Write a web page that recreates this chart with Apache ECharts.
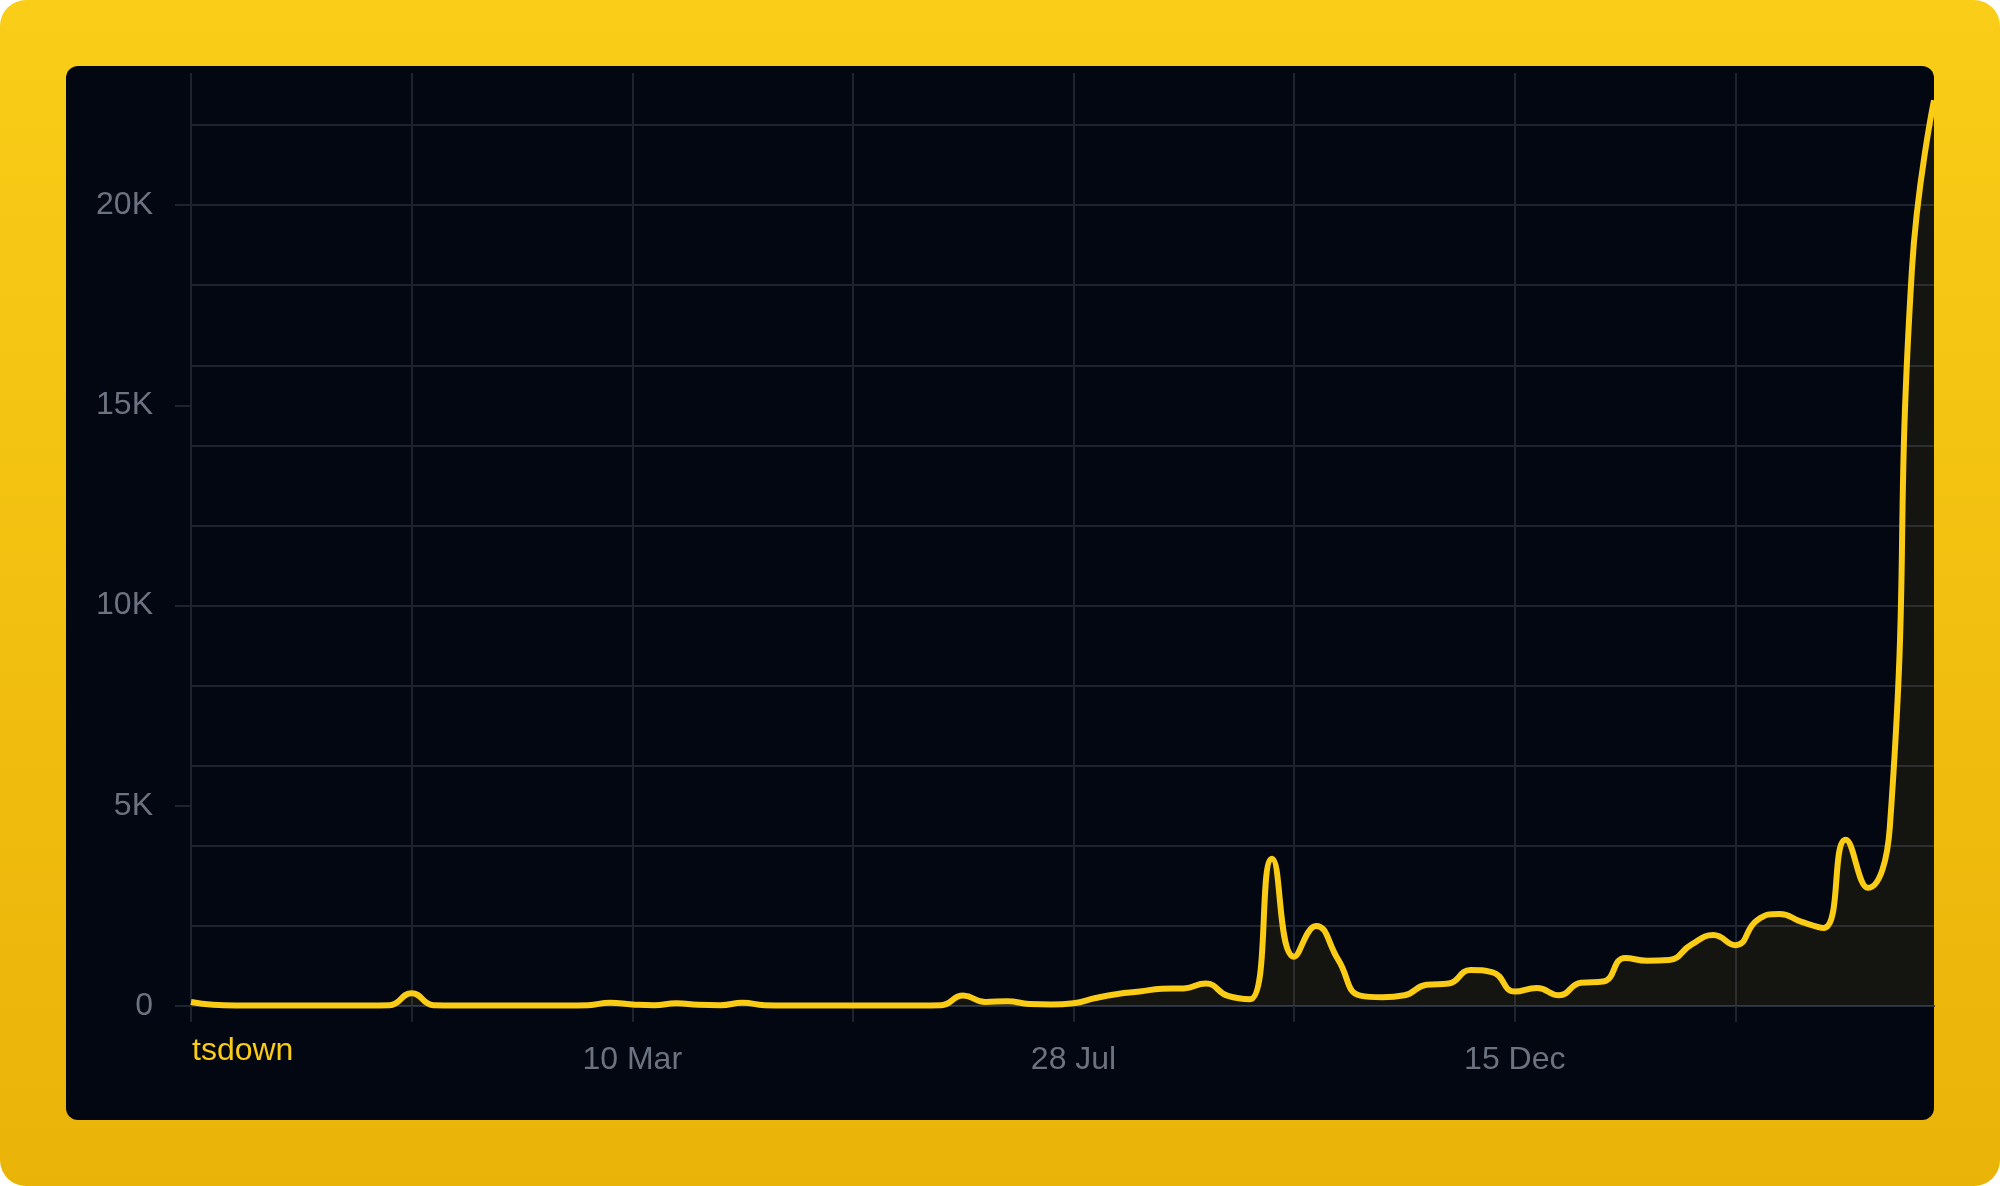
<!DOCTYPE html>
<html>
<head>
<meta charset="utf-8">
<script src="https://cdn.jsdelivr.net/npm/echarts@6/dist/echarts.min.js"></script>
<style>
  html, body { margin: 0; padding: 0; background: #ffffff; }
  #frame {
    position: absolute; left: 0; top: 0; width: 2000px; height: 1186px;
    border-radius: 26px;
    background: linear-gradient(180deg, #f9cd18 0%, #eab308 100%);
    overflow: hidden;
  }
  #panel {
    position: absolute; left: 66px; top: 66px; width: 1868px; height: 1054px;
    background: #030712; border-radius: 12px;
  }
  #chart { position: absolute; left: 0; top: 0; width: 2000px; height: 1186px; }
</style>
</head>
<body>
<div id="frame"><div id="panel"></div><div id="chart"></div></div>
<script>
// Weekly dates (category axis)
const dates = [
  '2023-10-22','2023-10-29','2023-11-05','2023-11-12','2023-11-19','2023-11-26','2023-12-03','2023-12-10','2023-12-17','2023-12-24',
  '2023-12-31','2024-01-07','2024-01-14','2024-01-21','2024-01-28','2024-02-04','2024-02-11','2024-02-18','2024-02-25','2024-03-03',
  '2024-03-10','2024-03-17','2024-03-24','2024-03-31','2024-04-07','2024-04-14','2024-04-21','2024-04-28','2024-05-05','2024-05-12',
  '2024-05-19','2024-05-26','2024-06-02','2024-06-09','2024-06-16','2024-06-23','2024-06-30','2024-07-07','2024-07-14','2024-07-21',
  '2024-07-28','2024-08-04','2024-08-11','2024-08-18','2024-08-25','2024-09-01','2024-09-08','2024-09-15','2024-09-22','2024-09-29',
  '2024-10-06','2024-10-13','2024-10-20','2024-10-27','2024-11-03','2024-11-10','2024-11-17','2024-11-24','2024-12-01','2024-12-08',
  '2024-12-15','2024-12-22','2024-12-29','2025-01-05','2025-01-12','2025-01-19','2025-01-26','2025-02-02','2025-02-09','2025-02-16',
  '2025-02-23','2025-03-02','2025-03-09','2025-03-16','2025-03-23','2025-03-30','2025-04-06','2025-04-13','2025-04-20','2025-04-27'
];

// Weekly downloads for tsdown
const tsdownValues = [
  100, 30, 10, 10, 10, 10, 10, 10, 10, 20,
  320, 20, 10, 10, 10, 10, 10, 10, 20, 80,
  40, 20, 70, 30, 20, 80, 20, 10, 10, 10,
  10, 10, 10, 10, 20, 260, 100, 120, 50, 40,
  70, 200, 300, 360, 430, 440, 560, 250, 170, 3680,
  1230, 2000, 1150, 260, 220, 270, 530, 560, 900, 840,
  360, 450, 270, 580, 610, 1200, 1130, 1150, 1530, 1770,
  1520, 2150, 2300, 2100, 1950, 4150, 2950, 4480, 18400, 22620
];

const seriesName = 'tsdown';

// Axis ticks
const yLabelValues = [0, 5000, 10000, 15000, 20000];
const yGridStep = 2000;
const xLabelIndex = [20, 40, 60];
const xLabelText = ['10 Mar', '28 Jul', '15 Dec'];
const yMax = 23300;

const FONT = "'Liberation Sans', Arial, Helvetica, sans-serif";
const GRID_COLOR = '#1d2430';
const TEXT_COLOR = '#6b7280';
const YELLOW = '#facc15';

const chart = echarts.init(document.getElementById('chart'), null, { renderer: 'canvas' });

chart.setOption({
  backgroundColor: 'transparent',
  animation: false,
  textStyle: { fontFamily: FONT },
  legend: {
    show: true,
    data: [seriesName],
    left: 182,
    top: 1030,
    icon: 'none',
    itemWidth: 0,
    itemHeight: 32,
    selectedMode: false,
    textStyle: { color: YELLOW, fontSize: 32, fontFamily: FONT }
  },
  grid: {
    left: 191,
    right: 66,
    top: 73,
    bottom: 180,
    containLabel: false
  },
  xAxis: {
    type: 'category',
    data: dates,
    boundaryGap: false,
    axisLine: { show: true, lineStyle: { color: '#283040', width: 2 } },
    axisTick: {
      show: true, interval: 9, length: 16, inside: false,
      lineStyle: { color: GRID_COLOR, width: 2 }
    },
    splitLine: {
      show: true, interval: 9,
      lineStyle: { color: GRID_COLOR, width: 2 }
    },
    axisLabel: {
      show: true,
      interval: function (idx) { return xLabelIndex.indexOf(idx) >= 0; },
      formatter: function (val, idx) {
        const k = xLabelIndex.indexOf(idx);
        return k >= 0 ? xLabelText[k] : '';
      },
      color: TEXT_COLOR,
      fontSize: 32,
      fontFamily: FONT,
      margin: 38
    }
  },
  yAxis: [{
    // labels and ticks at 5K
    type: 'value',
    min: 0,
    max: yMax,
    interval: 5000,
    axisLine: { show: false },
    axisTick: {
      show: true, length: 16,
      customValues: yLabelValues,
      lineStyle: { color: GRID_COLOR, width: 2 }
    },
    axisLabel: {
      show: true,
      customValues: yLabelValues,
      formatter: function (v) { return v === 0 ? '0' : (v / 1000) + 'K'; },
      color: TEXT_COLOR,
      fontSize: 32,
      fontFamily: FONT,
      margin: 38
    },
    splitLine: { show: false }
  }, {
    // grid lines every 2K
    type: 'value',
    position: 'left',
    min: 0,
    max: yMax,
    interval: yGridStep,
    axisLine: { show: false },
    axisTick: { show: false },
    axisLabel: { show: false },
    splitLine: {
      show: true,
      showMaxLine: false,
      lineStyle: { color: GRID_COLOR, width: 2 }
    }
  }],
  series: [{
    name: seriesName,
    type: 'line',
    data: tsdownValues,
    yAxisIndex: 0,
    smooth: 0.5,
    showSymbol: false,
    symbol: 'none',
    clip: true,
    lineStyle: { color: YELLOW, width: 6 },
    itemStyle: { color: YELLOW },
    areaStyle: { color: 'rgba(250, 204, 21, 0.1)' }
  }]
});
</script>
</body>
</html>
